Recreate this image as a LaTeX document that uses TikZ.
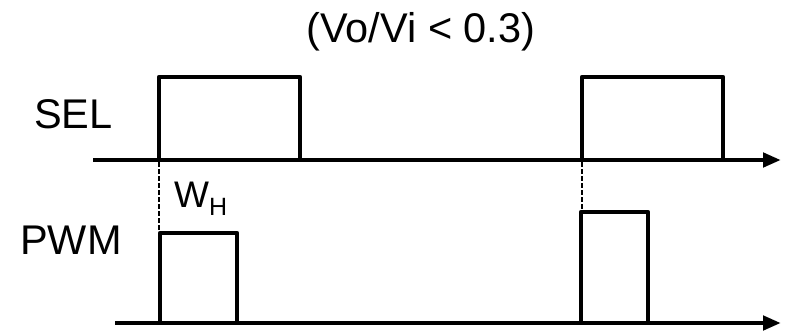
\documentclass[tikz,border=0pt]{standalone}
\usepackage{fontspec}
\setmainfont{Liberation Sans}
\usetikzlibrary{arrows.meta}
\begin{document}
\begin{tikzpicture}[x=1pt,y=-1pt,
  wave/.style={line width=4.6pt,line join=round,line cap=butt},
  axis/.style={line width=4.6pt,-{Triangle[length=18pt,width=14pt]}},
  guide/.style={line width=2pt,dash pattern=on 4.5pt off 2.5pt},
  lbl/.style={inner sep=0pt,font=\fontsize{41.5}{48}\selectfont}]
  \useasboundingbox (0,0) rectangle (788,335);

  % labels
  \node[lbl,anchor=base] (title) at (421,42) {(Vo/Vi < 0.3)};
  \node[lbl,anchor=base west] (sel) at (34,128) {SEL};
  \node[lbl,anchor=base west] (pwm) at (20,254) {PWM};
  \node[inner sep=0pt,anchor=base west] (wh) at (174,207)
    {\fontsize{37}{40}\selectfont W\raisebox{-8pt}{\fontsize{25}{26}\selectfont H}};

  % time axes
  \coordinate (selstart) at (93,160);
  \coordinate (selend) at (781,160);
  \coordinate (pwmstart) at (115,323);
  \coordinate (pwmend) at (781,323);
  \draw[axis] (selstart) -- (selend);
  \draw[axis] (pwmstart) -- (pwmend);

  % SEL pulses
  \coordinate (s1a) at (159,160); \coordinate (s1b) at (159,77);
  \coordinate (s1c) at (300,77);  \coordinate (s1d) at (300,160);
  \draw[wave] (s1a) -- (s1b) -- (s1c) -- (s1d);
  \coordinate (s2a) at (582,160); \coordinate (s2b) at (582,77);
  \coordinate (s2c) at (723,77);  \coordinate (s2d) at (723,160);
  \draw[wave] (s2a) -- (s2b) -- (s2c) -- (s2d);

  % PWM pulses
  \coordinate (p1a) at (160,323); \coordinate (p1b) at (160,233);
  \coordinate (p1c) at (237,233); \coordinate (p1d) at (237,323);
  \draw[wave] (p1a) -- (p1b) -- (p1c) -- (p1d);
  \coordinate (p2a) at (581,323); \coordinate (p2b) at (581,212);
  \coordinate (p2c) at (648,212); \coordinate (p2d) at (648,323);
  \draw[wave] (p2a) -- (p2b) -- (p2c) -- (p2d);

  % alignment guides
  \coordinate (g1) at (159,162); \coordinate (g1e) at (159,231);
  \coordinate (g2) at (582,162); \coordinate (g2e) at (582,210);
  \draw[guide] (g1) -- (g1e);
  \draw[guide] (g2) -- (g2e);
\end{tikzpicture}
\end{document}
